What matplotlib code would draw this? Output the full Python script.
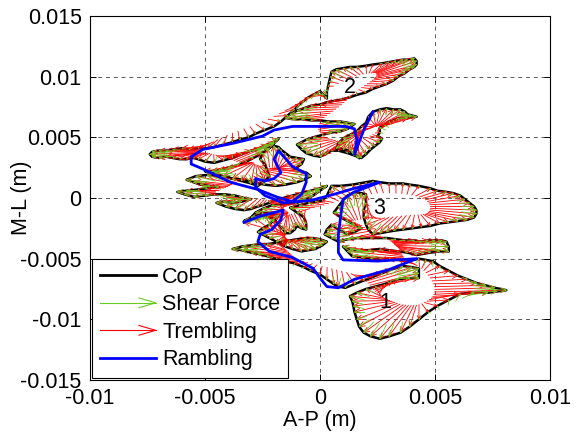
import numpy as np
import pandas as pd
import matplotlib
matplotlib.use('Agg')
import matplotlib.pyplot as plt
from matplotlib.collections import LineCollection
from matplotlib.lines import Line2D
from matplotlib.legend_handler import HandlerBase

plt.rcParams['font.family'] = 'sans-serif'
plt.rcParams['font.sans-serif'] = ['Liberation Sans', 'DejaVu Sans']

FS = 15.5
GREEN = '#66CC22'
RED = '#FF0000'
BLUE = '#0000FF'

# ------------------------------------------------------------
# CoP trajectory (mm), in time order
# ------------------------------------------------------------
cop_start = [(1.7, 3.3), (1.5, 3.6), (1.3, 3.9), (1.0, 4.0), (0.7, 4.1), (0.8, 4.5), (1.0, 4.9), (1.3, 5.2),
             (1.6, 5.5), (1.8, 5.9), (2.0, 6.2), (2.1, 6.7), (2.3, 7.1), (2.6, 7.3), (2.9, 7.4), (3.2, 7.3),
             (3.5, 7.3), (3.7, 7.1), (3.8, 6.9), (4.0, 6.8), (4.2, 6.7), (3.8, 6.6), (3.4, 6.6), (3.2, 6.4),
             (3.0, 6.3), (2.8, 6.0), (2.6, 5.8), (2.6, 5.4), (2.5, 5.1), (2.7, 4.9), (2.6, 4.6), (2.4, 4.3),
             (2.2, 4.0), (2.0, 3.6), (1.8, 3.3), (1.5, 3.5), (1.2, 3.7), (0.8, 3.9), (0.5, 3.9), (0.2, 3.6),
             (0.0, 3.4), (-0.3, 3.5), (-0.6, 3.7), (-0.8, 4.0), (-1.0, 4.4)]
cop_lobe2 = [(-0.6, 4.8), (-0.3, 5.0), (0.1, 5.2), (0.5, 5.4), (0.9, 5.5), (1.2, 5.7), (1.5, 6.1), (1.2, 6.2),
             (0.9, 6.3), (0.4, 6.3), (0.0, 6.4), (-0.4, 6.4), (-0.8, 6.5), (-1.2, 6.5), (-1.5, 6.6),
             (-1.3, 6.9), (-1.0, 7.2), (-0.7, 7.4), (-0.4, 7.6), (0.0, 7.7), (0.3, 7.9), (0.6, 8.0),
             (0.9, 8.1), (1.3, 8.3), (1.6, 8.5), (2.0, 8.7), (2.3, 9.0), (2.6, 9.2), (2.9, 9.4), (3.2, 9.7),
             (3.4, 10.0), (3.7, 10.3), (3.9, 10.6), (4.1, 10.8), (4.2, 11.0), (4.2, 11.3), (4.1, 11.5),
             (3.8, 11.4), (3.6, 11.4), (3.3, 11.3), (3.0, 11.2), (2.7, 11.1), (2.3, 11.0), (2.0, 10.9),
             (1.6, 10.8), (1.3, 10.8), (1.0, 10.7), (0.7, 10.6), (0.5, 10.4), (0.45, 10.0), (0.4, 9.6),
             (0.35, 9.2), (0.3, 8.8), (0.3, 8.5), (0.3, 8.2), (0.15, 8.5), (0.0, 8.8), (-0.2, 8.6),
             (-0.5, 8.3), (-0.7, 8.0), (-0.9, 7.7), (-1.1, 7.3), (-1.4, 6.8), (-1.7, 6.3), (-2.0, 5.9)]
cop_wing = [(-2.4, 5.6), (-2.8, 5.3), (-3.1, 5.0), (-3.5, 4.8), (-3.8, 4.6), (-4.2, 4.4), (-4.6, 4.2),
            (-4.9, 4.1), (-5.3, 4.1), (-5.7, 4.0), (-6.0, 4.1), (-6.4, 4.0), (-6.7, 3.9), (-7.0, 3.9),
            (-7.3, 3.8), (-7.4, 3.6), (-7.3, 3.4), (-7.0, 3.3), (-6.7, 3.4), (-6.4, 3.3), (-6.1, 3.2),
            (-5.8, 3.2), (-5.5, 3.3), (-5.3, 3.2), (-5.0, 3.0), (-4.6, 2.9), (-4.2, 3.1), (-3.8, 3.3),
            (-3.4, 3.6), (-3.0, 3.9), (-2.6, 4.1), (-2.3, 4.4), (-2.0, 4.6), (-1.8, 4.9), (-2.0, 4.5),
            (-2.2, 4.1), (-2.5, 3.7), (-2.9, 3.3), (-3.2, 3.0), (-3.6, 2.7), (-4.0, 2.5), (-4.4, 2.3),
            (-4.7, 2.2), (-5.0, 2.2)]
cop_center = [(-4.6, 2.0), (-4.2, 1.8), (-3.8, 1.6), (-3.4, 1.4), (-3.0, 1.2), (-2.7, 1.0), (-2.4, 1.4),
              (-2.2, 1.8), (-2.3, 2.3), (-2.4, 2.8), (-2.6, 3.2), (-2.5, 3.7), (-2.3, 4.1), (-2.0, 4.3),
              (-1.8, 4.2), (-1.7, 4.0), (-1.5, 3.7), (-1.3, 3.4), (-1.0, 3.3), (-0.7, 3.2), (-0.8, 2.8),
              (-1.1, 2.4), (-0.8, 2.2), (-0.6, 2.1), (-0.4, 1.8), (-0.7, 1.5), (-1.0, 1.3), (-1.5, 1.1),
              (-1.9, 1.0), (-2.4, 1.1), (-2.9, 1.3), (-3.3, 1.5), (-3.8, 1.6), (-4.3, 1.8), (-4.9, 1.9),
              (-5.4, 1.8), (-5.8, 1.5), (-5.5, 1.3), (-5.2, 1.1), (-4.8, 1.0), (-4.4, 0.9), (-4.9, 0.8),
              (-5.3, 0.7), (-5.8, 0.6), (-6.2, 0.5), (-5.9, 0.3), (-5.5, 0.1), (-5.0, 0.2), (-4.6, 0.3),
              (-4.1, 0.3), (-3.7, 0.2), (-3.3, 0.0), (-3.0, -0.1), (-3.4, -0.3), (-3.8, -0.4), (-4.2, -0.3),
              (-4.5, -0.4), (-4.1, -0.7), (-3.7, -0.9), (-3.3, -1.0), (-3.0, -0.9), (-2.7, -0.7),
              (-2.5, -0.6), (-2.2, -0.4), (-2.0, -0.2), (-1.6, 0.0), (-1.2, 0.2), (-0.8, 0.4), (-0.4, 0.6),
              (0.0, 0.8), (0.3, 1.0), (0.0, 0.6), (-0.3, 0.2), (-0.6, -0.1), (-1.0, -0.4), (-1.5, -0.5),
              (-2.1, -0.6), (-2.5, -0.9), (-2.8, -1.2), (-3.0, -1.6), (-3.3, -1.9), (-2.9, -1.7),
              (-2.6, -1.5), (-2.3, -1.6), (-2.0, -1.7), (-1.8, -2.2), (-1.6, -2.6), (-1.5, -2.9),
              (-1.3, -2.9), (-1.1, -2.6), (-1.0, -2.3), (-0.8, -2.5), (-0.6, -2.6), (-0.6, -2.1),
              (-0.7, -1.6), (-1.0, -1.2), (-1.3, -0.8), (-0.9, -0.6), (-0.5, -0.4), (-0.2, -0.3),
              (0.1, -0.2), (0.3, 0.2), (0.4, 0.6)]
cop_lobe3 = [(0.5, 1.0), (0.9, 1.0), (1.4, 1.1), (1.7, 1.2), (2.0, 1.3), (2.3, 1.4), (2.6, 1.3), (3.0, 1.2),
             (3.3, 1.2), (3.6, 1.2), (3.9, 1.1), (4.3, 1.0), (4.8, 0.8), (5.1, 0.6), (5.5, 0.5), (5.8, 0.4),
             (6.1, 0.2), (6.3, -0.1), (6.5, -0.4), (6.7, -0.7), (6.8, -1.0), (6.8, -1.3), (6.7, -1.6),
             (6.4, -1.8), (6.0, -1.9), (5.6, -2.0), (5.2, -2.1), (4.8, -2.3), (4.4, -2.4), (4.0, -2.5),
             (3.6, -2.6), (3.2, -2.7), (2.9, -2.8), (2.6, -2.9), (2.3, -3.0), (2.1, -2.6), (2.0, -2.2),
             (1.9, -1.6), (1.9, -1.0), (2.0, -0.4), (2.0, 0.3), (1.8, 0.4), (1.5, 0.5), (1.2, 0.2),
             (1.0, -0.2), (0.8, -0.7), (0.6, -1.2), (0.9, -1.6), (1.2, -1.9), (1.5, -2.2), (1.8, -2.5),
             (1.5, -2.8), (1.2, -3.0), (0.8, -2.6), (0.5, -2.2), (0.3, -2.6), (0.2, -3.0), (0.5, -3.3),
             (0.8, -3.6)]
cop_band = [(1.2, -3.4), (1.6, -3.3), (2.2, -3.3), (2.9, -3.3), (3.3, -3.4), (3.7, -3.5), (4.1, -3.5),
            (4.4, -3.6), (4.7, -3.5), (5.0, -3.5), (5.3, -3.5), (5.5, -3.6), (5.6, -4.0), (5.6, -4.4),
            (5.2, -4.4), (4.8, -4.5), (4.5, -4.6), (4.2, -4.7), (3.8, -4.5), (3.4, -4.4), (3.0, -4.3),
            (2.6, -4.2), (2.1, -4.3), (1.6, -4.3), (1.3, -4.2), (1.0, -4.0), (1.2, -4.4), (1.4, -4.8),
            (1.8, -4.9), (2.2, -5.0), (2.6, -5.0), (3.0, -5.0), (3.4, -5.1), (3.8, -5.2)]
cop_lobe1 = [(4.3, -5.0), (4.6, -5.1), (4.9, -5.2), (5.2, -5.6), (5.6, -6.0), (6.0, -6.4), (6.4, -6.7),
             (6.8, -7.0), (7.2, -7.2), (7.6, -7.4), (8.1, -7.6), (7.7, -7.7), (7.3, -7.8), (6.7, -7.8),
             (6.1, -7.9), (5.6, -8.4), (5.1, -8.9), (4.7, -9.4), (4.3, -10.0), (3.9, -10.6), (3.5, -11.1),
             (3.0, -11.4), (2.6, -11.6), (2.2, -11.4), (1.9, -11.1), (1.7, -10.6), (1.6, -10.0),
             (1.5, -9.4), (1.45, -8.9), (1.4, -8.5), (1.3, -8.1), (1.6, -7.8), (2.0, -7.5), (2.4, -7.3),
             (2.8, -7.1), (3.1, -6.9), (3.4, -6.7), (3.9, -6.6), (4.3, -6.6), (4.3, -6.2), (4.3, -5.8),
             (4.0, -5.7), (3.6, -5.6), (3.1, -5.9), (2.7, -6.2), (2.3, -6.5), (1.9, -6.8), (1.5, -7.1),
             (1.1, -7.4), (0.8, -7.3), (0.6, -7.1)]
cop_end = [(0.3, -6.7), (0.0, -6.3), (-0.4, -6.0), (-0.7, -5.7), (-1.1, -5.4), (-1.5, -5.2), (-1.9, -5.0),
           (-2.3, -4.8), (-2.7, -4.6), (-3.0, -4.5), (-3.4, -4.3), (-3.8, -4.2), (-3.4, -4.0), (-3.0, -3.9),
           (-2.6, -3.8), (-2.3, -3.8), (-1.9, -3.7), (-1.6, -3.6), (-1.3, -3.5), (-1.0, -3.4), (-0.6, -3.3),
           (-0.3, -3.3), (0.0, -3.4), (0.3, -3.6), (0.1, -3.9), (-0.2, -4.2), (-0.5, -4.3), (-0.8, -4.4),
           (-1.2, -4.2), (-1.5, -4.0), (-1.9, -3.6), (-2.2, -3.3), (-2.5, -3.0), (-2.7, -2.8), (-2.5, -2.5),
           (-2.2, -2.2), (-2.0, -1.8), (-1.8, -1.4), (-2.2, -1.3), (-2.5, -1.2), (-2.9, -1.6), (-3.3, -2.0)]

# Rambling trajectory (mm)
ramb_mm = [(2.3, 7.1), (1.9, 5.6), (1.5, 3.6), (1.6, 4.8), (1.5, 5.7), (1.1, 5.9), (0.0, 5.9), (-1.2, 5.9),
           (-2.0, 5.6), (-2.5, 5.1), (-3.8, 4.5), (-5.1, 4.0), (-5.6, 3.4), (-5.6, 2.8), (-5.1, 2.4),
           (-3.9, 1.3), (-2.7, 0.7), (-1.9, 0.1), (-1.2, -0.3), (-0.8, 0.3), (-0.6, 1.3), (-0.6, 2.0),
           (-1.2, 2.6), (-1.8, 3.9), (-2.0, 3.2), (-1.7, 2.1), (-2.0, 1.6), (-2.4, 1.4), (-2.8, 1.6),
           (-2.8, 0.9), (-2.4, 0.2), (-1.6, -0.4), (-0.4, -0.2), (0.6, 0.3), (1.5, 0.8), (2.6, 1.3),
           (1.5, 0.5), (1.0, -0.1), (0.9, -1.5), (0.8, -3.0), (0.8, -4.5), (1.0, -5.1), (2.5, -5.2),
           (4.2, -5.0), (3.0, -5.9), (1.5, -6.7), (0.8, -7.4), (0.3, -7.3), (0.0, -6.6), (-0.3, -5.8),
           (-1.2, -4.9), (-2.2, -4.4), (-2.7, -3.6), (-2.6, -3.0), (-2.1, -2.6), (-1.7, -1.8),
           (-1.6, -1.0), (-2.6, -1.5), (-3.3, -2.0)]

region_labels = ['1', '2', '3']
region_pos_mm = [(2.86, -8.65), (1.3, 9.07), (2.57, -0.9)]

x_ticks = [-0.01, -0.005, 0, 0.005, 0.01]
x_ticklabels = ['-0.01', '-0.005', '0', '0.005', '0.01']
y_ticks = [-0.015, -0.01, -0.005, 0, 0.005, 0.01, 0.015]
y_ticklabels = ['-0.015', '-0.01', '-0.005', '0', '0.005', '0.01', '0.015']

# ------------------------------------------------------------
cop = np.array(cop_start + cop_lobe2 + cop_wing + cop_center + cop_lobe3 +
               cop_band + cop_lobe1 + cop_end) * 1e-3
ramb = np.array(ramb_mm) * 1e-3

# slow / medium reference of the CoP -> trembling & shear vectors
ref_slow = pd.DataFrame(cop).rolling(29, center=True, min_periods=1).mean().values
ref_mid = pd.DataFrame(cop).rolling(15, center=True, min_periods=1).mean().values
shear_tail = cop - 0.8 * (cop - ref_mid)

fig = plt.figure(figsize=(5.78, 4.34), dpi=100, facecolor='white')
ax = fig.add_axes([90 / 578, 1 - 380 / 434, 460 / 578, 364 / 434])
ax.set_xlim(-0.01, 0.01)
ax.set_ylim(-0.015, 0.015)

SX = 460 / 0.02
SY = 364 / 0.03


def arrow_segments(tails, heads, frac=0.28, max_px=6.5, ang=np.deg2rad(22)):
    segs = []
    for (x0, y0), (x1, y1) in zip(tails, heads):
        dx, dy = (x1 - x0) * SX, (y1 - y0) * SY
        L = np.hypot(dx, dy)
        if L < 0.8:
            continue
        h = min(frac * L, max_px)
        ux, uy = dx / L, dy / L
        segs.append([(x0, y0), (x1, y1)])
        for s in (ang, -ang):
            c, sn = np.cos(s), np.sin(s)
            bx = -(ux * c - uy * sn) * h
            by = -(ux * sn + uy * c) * h
            segs.append([(x1, y1), (x1 + bx / SX, y1 + by / SY)])
    return segs


ax.plot(cop[:, 0], cop[:, 1], color='black', lw=1.8, zorder=2, solid_joinstyle='round')
ax.add_collection(LineCollection(arrow_segments(ref_slow, cop), colors=RED, lw=0.6, zorder=3))
ax.add_collection(LineCollection(arrow_segments(shear_tail, cop), colors=GREEN, lw=0.6, zorder=4))
ax.plot(ramb[:, 0], ramb[:, 1], color=BLUE, lw=2.0, zorder=5)

for lab, (px, py) in zip(region_labels, region_pos_mm):
    ax.text(px * 1e-3, py * 1e-3, lab, fontsize=FS, ha='center', va='center', zorder=6)

ax.set_xticks(x_ticks)
ax.set_xticklabels(x_ticklabels)
ax.set_yticks(y_ticks)
ax.set_yticklabels(y_ticklabels)
ax.tick_params(direction='in', top=True, right=True, length=4, width=0.7,
               labelsize=FS, pad=6)
ax.grid(True, linestyle=(0, (4, 4)), color='0.35', lw=0.7)
ax.set_axisbelow(True)
for sp in ax.spines.values():
    sp.set_linewidth(0.8)
ax.set_xlabel('A-P (m)', fontsize=FS)
ax.set_ylabel('M-L (m)', fontsize=FS)
ax.xaxis.set_label_coords(0.5, -0.083)
ax.yaxis.set_label_coords(-0.126, 0.5)


class ArrowHandler(HandlerBase):
    def __init__(self, color):
        super().__init__()
        self.color = color

    def create_artists(self, legend, orig_handle, xd, yd, w, h, fontsize, trans):
        x0, x1 = -xd, -xd + w
        yc = -yd + h / 2
        shaft = Line2D([x0, x1], [yc, yc], color=self.color, lw=0.8, transform=trans)
        head = Line2D([x1 - 12, x1, x1 - 12], [yc + 3.5, yc, yc - 3.5], color=self.color,
                      lw=0.8, transform=trans)
        return [shaft, head]


h_cop = Line2D([], [], color='black', lw=2.0)
h_shear = Line2D([], [], color=GREEN)
h_trem = Line2D([], [], color=RED)
h_ramb = Line2D([], [], color=BLUE, lw=2.0)
leg = ax.legend([h_cop, h_shear, h_trem, h_ramb], ['CoP', 'Shear Force', 'Trembling', 'Rambling'],
                loc='lower left', fontsize=FS, frameon=True, fancybox=False, framealpha=1,
                edgecolor='black', borderpad=0.35, labelspacing=0.3, handlelength=2.6,
                handletextpad=0.3, borderaxespad=0.1,
                handler_map={h_shear: ArrowHandler(GREEN), h_trem: ArrowHandler(RED)})
leg.get_frame().set_linewidth(0.8)
leg.set_zorder(10)

fig.savefig('out.png', dpi=100, facecolor='white')
